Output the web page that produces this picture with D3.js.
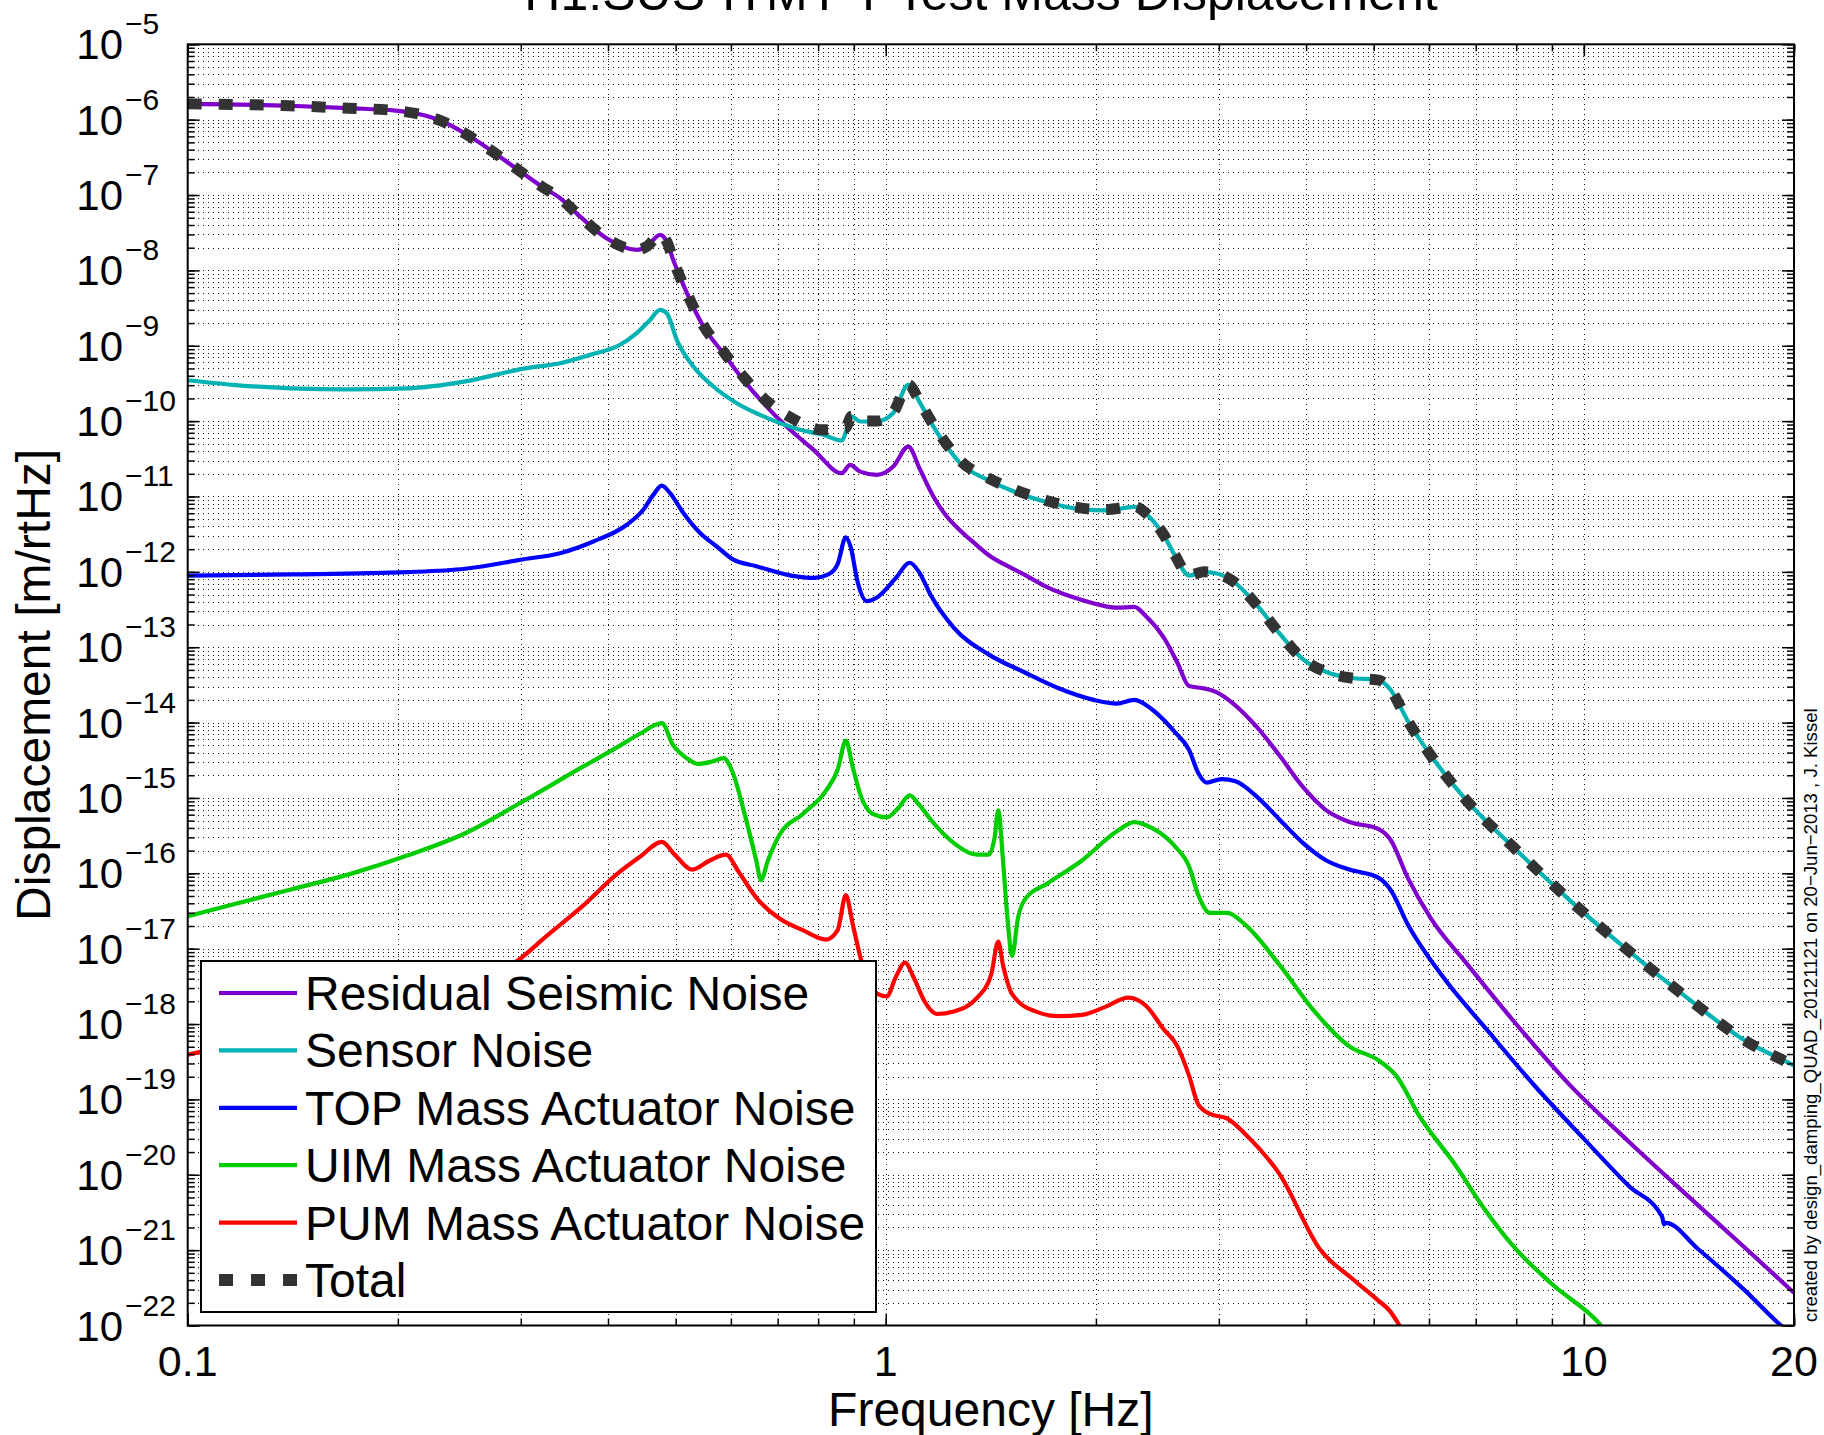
<!DOCTYPE html>
<html><head><meta charset="utf-8">
<script src="https://cdn.jsdelivr.net/npm/d3@7"></script>
<style>
html,body{margin:0;padding:0;background:#fff;}
svg{display:block;}
text{font-family:"Liberation Sans",Arial,Helvetica,sans-serif;fill:#000;}
</style></head><body>
<svg id="chart" width="1824" height="1435"></svg>
<script>
// ---------------- data (frequency [Hz], displacement [m/rtHz]) ----------------
const titleText = "H1:SUS-ITMY T Test Mass Displacement";
const xLabel = "Frequency [Hz]";
const yLabel = "Displacement [m/rtHz]";
const stampText = "created by design_damping_QUAD_20121121 on 20\u2212Jun\u22122013 , J. Kissel";
const xTickValues = [0.1, 1, 10, 20];
const xTickLabels = ["0.1", "1", "10", "20"];
const yTickExponents = [-5,-6,-7,-8,-9,-10,-11,-12,-13,-14,-15,-16,-17,-18,-19,-20,-21,-22];
const seriesNames = ["Residual Seismic Noise","Sensor Noise","TOP Mass Actuator Noise","UIM Mass Actuator Noise","PUM Mass Actuator Noise","Total"];

const seismic = [[0.1,1.62e-6],[0.14,1.53e-6],[0.17,1.42e-6],[0.1985,1.32e-6],[0.214,1.19e-6],[0.231,9.6e-7],[0.25,6.49e-7],[0.27,4.09e-7],[0.299,2.08e-7],[0.321,1.31e-7],[0.3415,9.08e-8],[0.365,5.16e-8],[0.398,2.67e-8],[0.44,1.87e-8],[0.4545,2.07e-8],[0.475,2.96e-8],[0.4856,2.41e-8],[0.496,1.38e-8],[0.519,4.99e-9],[0.548,1.80e-9],[0.585,7.98e-10],[0.625,3.53e-10],[0.675,1.56e-10],[0.721,8.47e-11],[0.788,4.16e-11],[0.865,2.04e-11],[0.889,2.63e-11],[0.919,2.14e-11],[0.971,1.94e-11],[1.025,2.50e-11],[1.077,4.60e-11],[1.12,2.26e-11],[1.17,1.0e-11],[1.223,5.43e-12],[1.278,3.55e-12],[1.34,2.4e-12],[1.405,1.66e-12],[1.5,1.17e-12],[1.577,9.25e-13],[1.702,6.27e-13],[1.91,4.24e-13],[2.143,3.35e-13],[2.27,3.42e-13],[2.359,2.58e-13],[2.499,1.36e-13],[2.617,6.22e-14],[2.719,3.05e-14],[2.858,2.84e-14],[2.97,2.56e-14],[3.146,1.79e-14],[3.397,8.81e-15],[3.667,3.63e-15],[3.961,1.39e-15],[4.277,6.84e-16],[4.617,4.79e-16],[5.083,3.87e-16],[5.282,2.81e-16],[5.595,8.71e-17],[6.04,2.51e-17],[6.778,6.52e-18],[7.903,1.14e-18],[9.574,1.51e-19],[11.6,2.75e-20],[14.05,5.37e-21],[17.12,1.02e-21],[20,2.72e-22]];

const sensor = [[0.1,3.49e-10],[0.116,3.03e-10],[0.1405,2.72e-10],[0.17,2.63e-10],[0.2063,2.72e-10],[0.25,3.37e-10],[0.303,4.98e-10],[0.3415,5.87e-10],[0.377,7.57e-10],[0.4163,1.03e-9],[0.4397,1.47e-9],[0.4596,2.20e-9],[0.4749,2.99e-9],[0.4856,2.70e-9],[0.5018,1.20e-9],[0.5301,5.30e-10],[0.5663,2.88e-10],[0.6117,1.73e-10],[0.6605,1.21e-10],[0.7058,9.40e-11],[0.7535,7.67e-11],[0.814,6.58e-11],[0.865,5.53e-11],[0.879,7.67e-11],[0.894,1.15e-10],[0.919,9.89e-11],[0.971,9.89e-11],[1.025,1.28e-10],[1.077,3.03e-10],[1.12,1.73e-10],[1.17,8.47e-11],[1.223,4.60e-11],[1.278,2.77e-11],[1.405,1.64e-11],[1.517,1.19e-11],[1.702,8.38e-12],[1.91,6.76e-12],[2.063,6.53e-12],[2.27,7.26e-12],[2.359,5.87e-12],[2.499,3.10e-12],[2.597,1.63e-12],[2.719,8.93e-13],[2.858,9.93e-13],[2.97,9.57e-13],[3.146,7.48e-13],[3.397,3.67e-13],[3.667,1.51e-13],[3.961,6.92e-14],[4.277,4.69e-14],[4.617,3.93e-14],[5.083,3.66e-14],[5.282,2.75e-14],[5.595,1.05e-14],[6.04,3.63e-15],[6.778,9.42e-16],[7.903,2.28e-16],[9.574,4.28e-17],[11.6,9.29e-18],[14.05,2.24e-18],[17.02,6.03e-19],[19.63,3.07e-19],[20,2.82e-19]];

const topMass = [[0.1,8.93e-13],[0.1405,9.25e-13],[0.2063,9.93e-13],[0.2498,1.10e-12],[0.3028,1.47e-12],[0.3415,1.77e-12],[0.3812,2.53e-12],[0.4256,4.22e-12],[0.4494,6.67e-12],[0.4645,1.05e-11],[0.4776,1.39e-11],[0.4909,1.11e-11],[0.5129,6.03e-12],[0.542,3.27e-12],[0.5727,2.17e-12],[0.6049,1.45e-12],[0.6523,1.19e-12],[0.7319,8.93e-13],[0.7902,8.32e-13],[0.8274,9.25e-13],[0.8532,1.27e-12],[0.8766,2.88e-12],[0.8902,2.17e-12],[0.9109,7.48e-13],[0.9393,4.09e-13],[0.9759,4.72e-13],[1.034,8.32e-13],[1.082,1.32e-12],[1.116,9.93e-13],[1.16,4.88e-13],[1.252,1.81e-13],[1.405,7.98e-14],[1.577,4.69e-14],[1.769,2.85e-14],[1.985,2.0e-14],[2.143,1.79e-14],[2.27,2.0e-14],[2.405,1.50e-14],[2.597,7.40e-15],[2.719,4.34e-15],[2.804,2.13e-15],[2.881,1.60e-15],[3.028,1.78e-15],[3.17,1.66e-15],[3.397,1.05e-15],[3.667,5.14e-16],[3.961,2.52e-16],[4.277,1.48e-16],[4.617,1.12e-16],[5.083,8.71e-17],[5.282,6.11e-17],[5.595,2.10e-17],[6.279,4.26e-18],[7.318,7.74e-19],[8.533,1.46e-19],[9.95,3.16e-20],[11.6,7.11e-21],[12.95,2.75e-21],[13.02,2.2e-21],[13.1,2.3e-21],[14.6,1.02e-21],[17.02,2.90e-22],[19.0,1.07e-22],[20,7.1e-23]];

const uimMass = [[0.1,2.70e-17],[0.116,3.85e-17],[0.1405,6.10e-17],[0.1702,9.68e-17],[0.2063,1.72e-16],[0.2498,3.40e-16],[0.3028,9.10e-16],[0.3667,2.54e-15],[0.4115,4.65e-15],[0.4443,7.11e-15],[0.4779,9.82e-15],[0.4948,5.18e-15],[0.5182,3.38e-15],[0.5385,2.83e-15],[0.5638,3.04e-15],[0.5858,3.38e-15],[0.6041,2.13e-15],[0.6277,6.14e-16],[0.6523,1.48e-16],[0.6625,8.11e-17],[0.6779,1.48e-16],[0.7044,3.24e-16],[0.7606,6.14e-16],[0.8212,1.25e-15],[0.8532,2.37e-15],[0.8766,5.75e-15],[0.8969,2.54e-15],[0.9213,1.05e-15],[0.9574,6.14e-16],[1.003,5.52e-16],[1.042,7.33e-16],[1.082,1.08e-15],[1.116,8.15e-16],[1.16,5.14e-16],[1.252,2.52e-16],[1.352,1.77e-16],[1.405,1.77e-16],[1.432,3.01e-16],[1.449,6.84e-16],[1.472,1.48e-16],[1.494,2.51e-17],[1.517,8.05e-18],[1.546,2.51e-17],[1.589,4.75e-17],[1.702,7.28e-17],[1.91,1.48e-16],[2.143,3.61e-16],[2.27,4.79e-16],[2.405,4.01e-16],[2.597,2.27e-16],[2.719,1.24e-16],[2.804,5.11e-17],[2.914,2.99e-17],[3.086,2.99e-17],[3.269,2.10e-17],[3.667,6.05e-18],[4.116,1.46e-18],[4.617,5.04e-19],[5.083,3.29e-19],[5.384,2.07e-19],[5.814,5.98e-20],[6.523,1.41e-20],[7.2,3.55e-21],[7.93,1.12e-21],[9.0,3.55e-22],[10.52,1.07e-22],[11,6.5e-23]];

const pumMass = [[0.1,3.93e-19],[0.15,8.9e-19],[0.2,1.78e-18],[0.25,3.55e-18],[0.297,6.98e-18],[0.3268,1.48e-17],[0.3667,3.58e-17],[0.4115,9.68e-17],[0.4443,1.65e-16],[0.4779,2.62e-16],[0.4984,1.77e-16],[0.5281,1.12e-16],[0.5596,1.48e-16],[0.5902,1.77e-16],[0.6157,1.04e-16],[0.6523,4.76e-17],[0.7044,2.51e-17],[0.7606,1.76e-17],[0.8212,1.32e-17],[0.8532,1.76e-17],[0.8766,5.12e-17],[0.8969,2.10e-17],[0.9213,7.24e-18],[0.95,2.98e-18],[1.003,2.32e-18],[1.034,4.25e-18],[1.066,6.52e-18],[1.095,4.25e-18],[1.138,1.95e-18],[1.183,1.36e-18],[1.252,1.47e-18],[1.352,2.24e-18],[1.416,4.57e-18],[1.449,1.24e-17],[1.472,6.07e-18],[1.517,2.49e-18],[1.638,1.47e-18],[1.769,1.27e-18],[1.91,1.32e-18],[2.063,1.69e-18],[2.227,2.24e-18],[2.359,1.75e-18],[2.499,8.61e-19],[2.617,5.05e-19],[2.719,2.07e-19],[2.804,8.53e-20],[2.914,6.43e-20],[3.086,5.57e-20],[3.269,3.51e-20],[3.667,1.01e-20],[4.19,1.02e-21],[4.673,4.08e-22],[5.052,2.22e-22],[5.279,1.54e-22],[5.42,1.07e-22],[5.6,6.3e-23]];

const total = [[0.1,1.62e-6],[0.14,1.53e-6],[0.17,1.42e-6],[0.1985,1.32e-6],[0.214,1.19e-6],[0.231,9.6e-7],[0.25,6.49e-7],[0.27,4.09e-7],[0.299,2.08e-7],[0.321,1.31e-7],[0.3415,9.08e-8],[0.365,5.16e-8],[0.398,2.67e-8],[0.44,1.87e-8],[0.4545,2.07e-8],[0.475,2.96e-8],[0.4856,2.41e-8],[0.496,1.38e-8],[0.519,5.0e-9],[0.548,1.85e-9],[0.585,8.4e-10],[0.625,3.9e-10],[0.675,1.85e-10],[0.733,1.1e-10],[0.814,7.67e-11],[0.8745,8.07e-11],[0.894,1.16e-10],[0.919,1.0e-10],[0.971,1.0e-10],[1.025,1.31e-10],[1.077,3.07e-10],[1.12,1.77e-10],[1.17,8.9e-11],[1.223,4.9e-11],[1.278,3.0e-11],[1.405,1.74e-11],[1.517,1.27e-11],[1.702,8.8e-12],[1.91,7.0e-12],[2.063,6.7e-12],[2.27,7.4e-12],[2.359,6.0e-12],[2.499,3.15e-12],[2.597,1.65e-12],[2.719,9.0e-13],[2.858,1.0e-12],[2.97,9.6e-13],[3.146,7.5e-13],[3.397,3.67e-13],[3.667,1.51e-13],[3.961,6.92e-14],[4.277,4.69e-14],[4.617,3.93e-14],[5.083,3.66e-14],[5.282,2.75e-14],[5.595,1.05e-14],[6.04,3.63e-15],[6.778,9.42e-16],[7.903,2.28e-16],[9.574,4.28e-17],[11.6,9.29e-18],[14.05,2.24e-18],[17.02,6.03e-19],[19.63,3.07e-19],[20,2.82e-19]];

const seriesData = [seismic, sensor, topMass, uimMass, pumMass, total];
const seriesColors = ["#7F00CC", "#00B2B2", "#0000FF", "#00CC00", "#FF0000", "#333333"];

// ---------------- layout ----------------
const L = 187.7, R = 1794, T = 44.3, B = 1325.5;
const svg = d3.select("#chart");

const x = d3.scaleLog().domain([0.1, 20]).range([L, R]);
const y = d3.scaleLog().domain([1e-22, 1e-5]).range([B, T]);

const xMinor = [];
[0.1, 1, 10].forEach(dec => { for (let k = 1; k <= 9; k++) { const v = +(k * dec).toPrecision(3); if (v <= 20) xMinor.push(v); } });
xMinor.push(20);
const yMinor = [];
for (let e = -22; e < -5; e++) { for (let k = 1; k <= 9; k++) yMinor.push(k * Math.pow(10, e)); }
yMinor.push(1e-5);
const yMajor = yTickExponents.map(e => Math.pow(10, e));

// dotted grid
const grid = svg.append("g").attr("stroke", "#111").attr("stroke-width", 1)
  .attr("stroke-dasharray", "1,4").attr("fill", "none").attr("shape-rendering", "crispEdges");
xMinor.forEach(v => {
  const px = Math.round(x(v)) + 0.5;
  if (px > L + 2 && px < R - 2) grid.append("line").attr("x1", px).attr("x2", px).attr("y1", Math.round(T)).attr("y2", B);
});
yMinor.forEach(v => {
  const py = Math.round(y(v)) + 0.5;
  if (py > T + 2 && py < B - 2) grid.append("line").attr("x1", Math.round(L)).attr("x2", R).attr("y1", py).attr("y2", py);
});

// curves
svg.append("clipPath").attr("id", "plotclip").append("rect").attr("x", L).attr("y", T).attr("width", R - L).attr("height", B - T);
const line = d3.line().x(d => x(d[0])).y(d => y(d[1])).curve(d3.curveMonotoneX);
const curves = svg.append("g").attr("clip-path", "url(#plotclip)");
seriesData.forEach((data, i) => {
  const p = curves.append("path").datum(data).attr("d", line).attr("fill", "none")
    .attr("stroke", seriesColors[i]).attr("stroke-linejoin", "round");
  if (i === 5) p.attr("stroke-width", 11).attr("stroke-dasharray", "14,17");
  else p.attr("stroke-width", 4.2);
});

// axes ticks (inside)
function styleAxis(g) { g.select(".domain").remove(); g.selectAll("line").attr("stroke", "#000").attr("stroke-width", 1.5); g.selectAll("text").remove(); }
svg.append("g").attr("transform", `translate(0,${B})`).call(d3.axisBottom(x).tickValues(xMinor).tickSize(-7).tickSizeOuter(0)).call(styleAxis);
svg.append("g").attr("transform", `translate(0,${B})`).call(d3.axisBottom(x).tickValues(xTickValues).tickSize(-12).tickSizeOuter(0)).call(styleAxis);
svg.append("g").attr("transform", `translate(0,${T})`).call(d3.axisTop(x).tickValues(xMinor).tickSize(-7).tickSizeOuter(0)).call(styleAxis);
svg.append("g").attr("transform", `translate(0,${T})`).call(d3.axisTop(x).tickValues(xTickValues).tickSize(-12).tickSizeOuter(0)).call(styleAxis);
svg.append("g").attr("transform", `translate(${L},0)`).call(d3.axisLeft(y).tickValues(yMinor).tickSize(-7).tickSizeOuter(0)).call(styleAxis);
svg.append("g").attr("transform", `translate(${L},0)`).call(d3.axisLeft(y).tickValues(yMajor).tickSize(-12).tickSizeOuter(0)).call(styleAxis);
svg.append("g").attr("transform", `translate(${R},0)`).call(d3.axisRight(y).tickValues(yMinor).tickSize(-7).tickSizeOuter(0)).call(styleAxis);
svg.append("g").attr("transform", `translate(${R},0)`).call(d3.axisRight(y).tickValues(yMajor).tickSize(-12).tickSizeOuter(0)).call(styleAxis);

// frame
svg.append("rect").attr("x", L).attr("y", T).attr("width", R - L).attr("height", B - T)
  .attr("fill", "none").attr("stroke", "#000").attr("stroke-width", 2);

// x tick labels
xTickValues.forEach((v, i) => {
  svg.append("text").attr("x", x(v)).attr("y", 1376).attr("text-anchor", "middle")
    .attr("font-size", 43).text(xTickLabels[i]);
});
// y tick labels 10^e
yTickExponents.forEach(e => {
  const py = y(Math.pow(10, e));
  svg.append("text").attr("x", 123).attr("y", py + 15).attr("text-anchor", "end").attr("font-size", 42).text("10");
  svg.append("text").attr("x", 125).attr("y", py - 10).attr("text-anchor", "start").attr("font-size", 30).text("\u2212" + Math.abs(e));
});

// axis labels and title
svg.append("text").attr("x", (L + R) / 2).attr("y", 1426).attr("text-anchor", "middle").attr("font-size", 48).text(xLabel);
svg.append("text").attr("transform", `translate(50,${(T + B) / 2}) rotate(-90)`).attr("text-anchor", "middle").attr("font-size", 48).text(yLabel);
svg.append("text").attr("x", 981).attr("y", 10).attr("text-anchor", "middle").attr("font-size", 50).text(titleText);
svg.append("text").attr("transform", `translate(1817,1322) rotate(-90)`).attr("text-anchor", "start").attr("font-size", 18.6).text(stampText);

// legend
const lg = svg.append("g");
lg.append("rect").attr("x", 201).attr("y", 961).attr("width", 675).attr("height", 351)
  .attr("fill", "#fff").attr("stroke", "#000").attr("stroke-width", 2);
seriesNames.forEach((name, i) => {
  const cy = 993 + i * 57.4;
  const ln = lg.append("line").attr("x1", 219).attr("x2", 297).attr("y1", cy).attr("y2", cy).attr("stroke", seriesColors[i]);
  if (i === 5) ln.attr("stroke-width", 12).attr("stroke-dasharray", "14,18");
  else ln.attr("stroke-width", 4.2);
  lg.append("text").attr("x", 305).attr("y", cy + 17).attr("font-size", 48).text(name);
});
</script>
</body></html>
